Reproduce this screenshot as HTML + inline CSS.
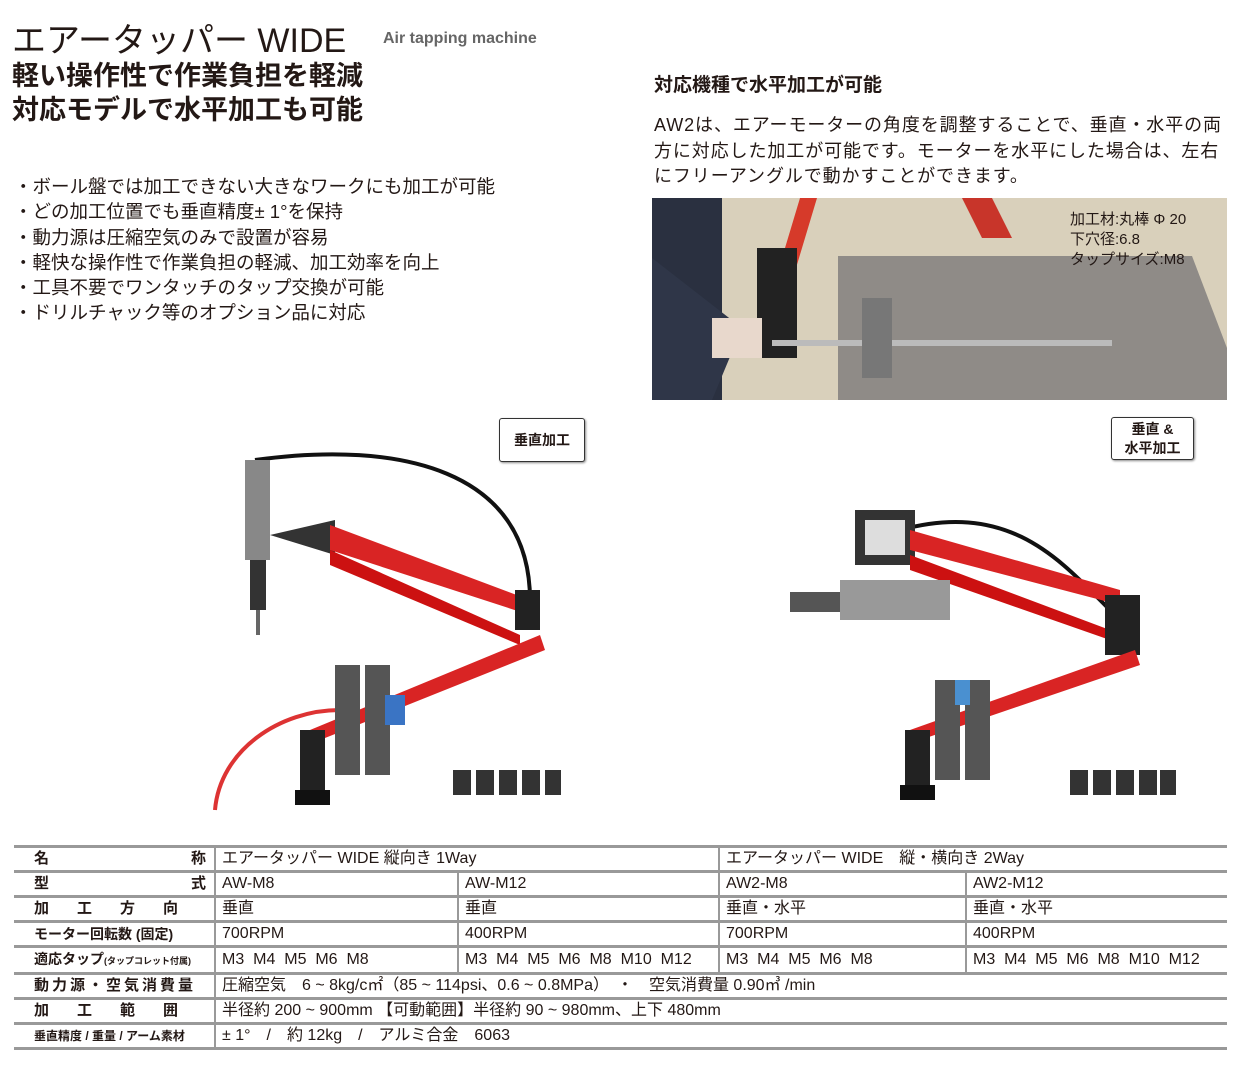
<!DOCTYPE html>
<html><head><meta charset="utf-8"><style>
body{margin:0;width:1243px;height:1075px;background:#fff;position:relative;overflow:hidden;font-family:"Liberation Sans","Noto Sans CJK JP",sans-serif;color:#231815}
.a{position:absolute;white-space:nowrap}
table{position:absolute;left:14px;top:845px;width:1213px;border-collapse:collapse;font-size:16px;table-layout:fixed}
td{border-top:3px solid #999;height:22px;padding:0 0 0 6px;line-height:22px;overflow:hidden;white-space:nowrap}
tr:last-child td{border-bottom:3px solid #999}
td.h{font-weight:bold;font-size:15px;padding-left:20px;padding-right:8px;border-right:2px solid #999}
td.b{border-right:2px solid #999}
.box{position:absolute;border:1.5px solid #333;border-radius:3px;font-weight:bold;font-size:14px;text-align:center;background:#fff;box-shadow:1px 1px 2px #888}
</style></head><body>
<div class="a" style="left:12px;top:13px;font-size:34px">エアータッパー WIDE</div>
<div class="a" style="left:383px;top:30px;font-size:16px;color:#666;font-weight:bold">Air tapping machine</div>
<div class="a" style="left:12px;top:59px;font-size:27px;font-weight:bold;line-height:34px">軽い操作性で作業負担を軽減<br>対応モデルで水平加工も可能</div>
<div class="a" style="left:14px;top:174px;font-size:18.5px;line-height:25.3px">・ボール盤では加工できない大きなワークにも加工が可能<br>・どの加工位置でも垂直精度± 1°を保持<br>・動力源は圧縮空気のみで設置が容易<br>・軽快な操作性で作業負担の軽減、加工効率を向上<br>・工具不要でワンタッチのタップ交換が可能<br>・ドリルチャック等のオプション品に対応</div>
<div class="a" style="left:654px;top:70px;font-size:19px;font-weight:bold">対応機種で水平加工が可能</div>
<div class="a" style="left:654px;top:113px;font-size:18px;letter-spacing:0.9px;line-height:25.5px">AW2は、エアーモーターの角度を調整することで、垂直・水平の両<br>方に対応した加工が可能です。モーターを水平にした場合は、左右<br>にフリーアングルで動かすことができます。</div>
<svg class="a" style="left:652px;top:198px" width="575" height="202">
<rect width="575" height="202" fill="#d9d0bb"/>
<polygon points="186,58 540,58 575,150 575,202 186,202" fill="#8f8b87"/>
<rect x="0" y="0" width="70" height="202" fill="#2a3040"/>
<polygon points="0,60 90,130 60,202 0,202" fill="#2f3648"/>
<polygon points="148,0 165,0 135,100 118,100" fill="#d63a2a"/>
<polygon points="310,0 340,0 360,40 330,40" fill="#c8352a"/>
<rect x="105" y="50" width="40" height="110" fill="#222"/>
<rect x="120" y="142" width="340" height="6" fill="#bbb"/>
<rect x="210" y="100" width="30" height="80" fill="#777"/>
<rect x="60" y="120" width="50" height="40" fill="#e8d8cc"/>
</svg>
<div class="a" style="left:1070px;top:210px;font-size:15px;line-height:20px">加工材:丸棒 Φ 20<br>下穴径:6.8<br>タップサイズ:M8</div>
<div class="box" style="left:499px;top:418px;width:84px;height:42px;line-height:42px">垂直加工</div>
<div class="box" style="left:1111px;top:417px;width:83px;height:43px;line-height:19px;padding-top:2px;box-sizing:border-box">垂直 &amp;<br>水平加工</div>
<svg class="a" style="left:200px;top:440px" width="380" height="380">
<path d="M55,20 C200,0 330,30 330,160" stroke="#111" stroke-width="4" fill="none"/>
<rect x="45" y="20" width="25" height="100" fill="#888"/><rect x="50" y="120" width="16" height="50" fill="#333"/><rect x="56" y="170" width="4" height="25" fill="#666"/>
<polygon points="70,95 135,80 135,115" fill="#333"/>
<polygon points="130,85 330,160 330,175 130,110" fill="#d92424"/>
<polygon points="130,110 320,195 320,205 130,125" fill="#c11"/>
<rect x="315" y="150" width="25" height="40" fill="#222"/>
<polygon points="340,195 345,210 120,300 110,290" fill="#d92424"/>
<rect x="100" y="290" width="25" height="60" fill="#222"/><rect x="95" y="350" width="35" height="15" fill="#111"/>
<path d="M15,370 C20,310 80,270 140,270" stroke="#d33" stroke-width="4" fill="none"/>
<rect x="135" y="225" width="25" height="110" fill="#555"/><rect x="165" y="225" width="25" height="110" fill="#555"/><rect x="185" y="255" width="20" height="30" fill="#3a74c4"/>
<g fill="#333"><rect x="253" y="330" width="18" height="25"/><rect x="276" y="330" width="18" height="25"/><rect x="299" y="330" width="18" height="25"/><rect x="322" y="330" width="18" height="25"/><rect x="345" y="330" width="16" height="25"/></g>
</svg>
<svg class="a" style="left:760px;top:500px" width="440" height="310">
<path d="M140,30 C250,0 300,60 350,110" stroke="#111" stroke-width="4" fill="none"/>
<rect x="95" y="10" width="60" height="55" fill="#333"/><rect x="105" y="20" width="40" height="35" fill="#ddd"/>
<polygon points="150,30 360,90 360,105 150,50" fill="#d92424"/>
<polygon points="150,55 350,130 350,140 150,70" fill="#c11"/>
<rect x="80" y="80" width="110" height="40" fill="#999"/><rect x="30" y="92" width="50" height="20" fill="#555"/>
<rect x="345" y="95" width="35" height="60" fill="#222"/>
<polygon points="375,150 380,165 160,240 150,230" fill="#d92424"/>
<rect x="145" y="230" width="25" height="60" fill="#222"/><rect x="140" y="285" width="35" height="15" fill="#111"/>
<rect x="175" y="180" width="25" height="100" fill="#555"/><rect x="205" y="180" width="25" height="100" fill="#555"/><rect x="195" y="180" width="15" height="25" fill="#4a90d0"/>
<g fill="#333"><rect x="310" y="270" width="18" height="25"/><rect x="333" y="270" width="18" height="25"/><rect x="356" y="270" width="18" height="25"/><rect x="379" y="270" width="18" height="25"/><rect x="400" y="270" width="16" height="25"/></g>
</svg>
<table>
<colgroup><col style="width:201px"><col style="width:243px"><col style="width:261px"><col style="width:247px"><col style="width:261px"></colgroup>
<tr><td class="h">名<span style="float:right">称</span></td><td class="b" colspan="2">エアータッパー WIDE 縦向き 1Way</td><td colspan="2">エアータッパー WIDE　縦・横向き 2Way</td></tr>
<tr><td class="h">型<span style="float:right">式</span></td><td class="b">AW-M8</td><td class="b">AW-M12</td><td class="b">AW2-M8</td><td>AW2-M12</td></tr>
<tr><td class="h" style="letter-spacing:28px">加工方向</td><td class="b">垂直</td><td class="b">垂直</td><td class="b">垂直・水平</td><td>垂直・水平</td></tr>
<tr><td class="h" style="font-size:14px">モーター回転数 (固定)</td><td class="b">700RPM</td><td class="b">400RPM</td><td class="b">700RPM</td><td>400RPM</td></tr>
<tr><td class="h" style="font-size:14px">適応タップ<span style="font-size:9px">(タップコレット付属)</span></td><td class="b">M3&nbsp; M4&nbsp; M5&nbsp; M6&nbsp; M8</td><td class="b">M3&nbsp; M4&nbsp; M5&nbsp; M6&nbsp; M8&nbsp; M10&nbsp; M12</td><td class="b">M3&nbsp; M4&nbsp; M5&nbsp; M6&nbsp; M8</td><td>M3&nbsp; M4&nbsp; M5&nbsp; M6&nbsp; M8&nbsp; M10&nbsp; M12</td></tr>
<tr><td class="h" style="letter-spacing:3px">動力源・空気消費量</td><td colspan="4">圧縮空気　6 ~ 8kg/c㎡（85 ~ 114psi、0.6 ~ 0.8MPa）　・　空気消費量 0.90㎥ /min</td></tr>
<tr><td class="h" style="letter-spacing:28px">加工範囲</td><td colspan="4">半径約 200 ~ 900mm 【可動範囲】半径約 90 ~ 980mm、上下 480mm</td></tr>
<tr><td class="h" style="font-size:12px">垂直精度 / 重量 / アーム素材</td><td colspan="4">± 1°　/　約 12kg　/　アルミ合金　6063</td></tr>
</table>
</body></html>
